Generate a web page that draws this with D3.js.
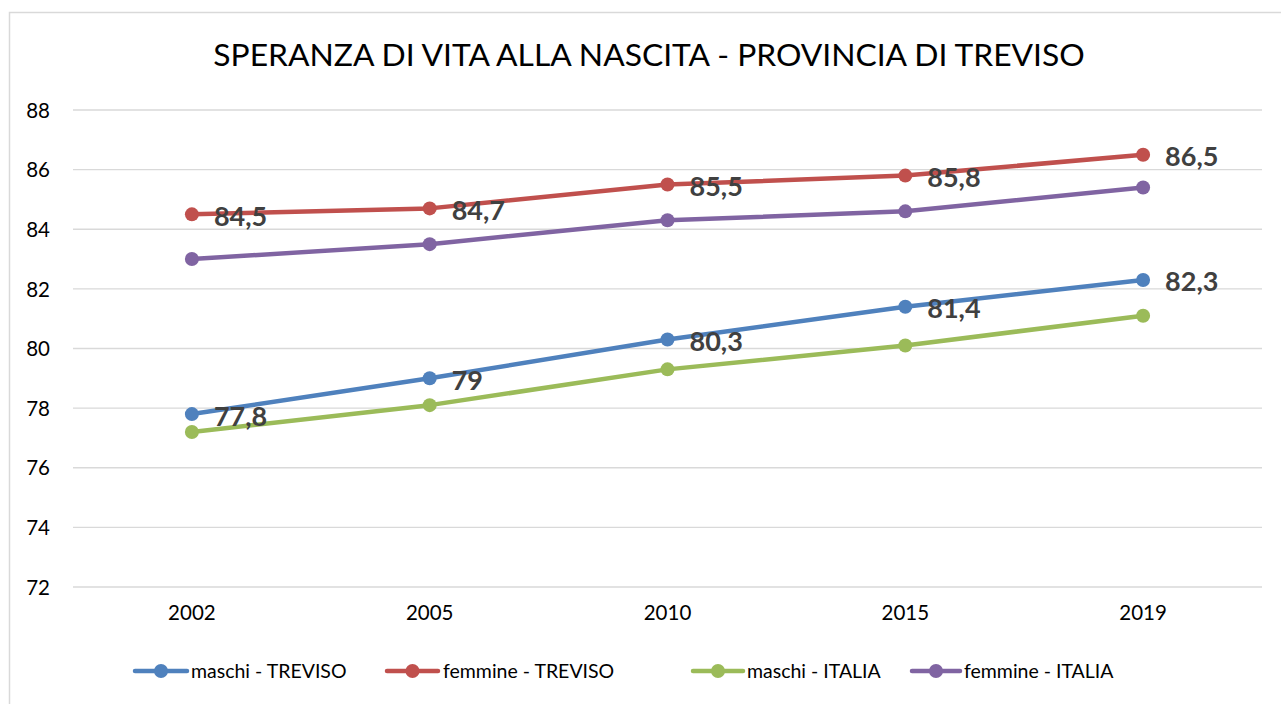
<!DOCTYPE html>
<html><head><meta charset="utf-8">
<script src="https://cdn.jsdelivr.net/npm/d3@7/dist/d3.min.js"></script>
<style>body{margin:0;background:#fff;}svg{display:block;}</style>
</head><body>
<svg id="c" width="1281" height="704"></svg>
<script>
const years = ["2002","2005","2010","2015","2019"];
const maschiTreviso = [77.8, 79.0, 80.3, 81.4, 82.3];
const femmineTreviso = [84.5, 84.7, 85.5, 85.8, 86.5];
const maschiItalia = [77.2, 78.1, 79.3, 80.1, 81.1];
const femmineItalia = [83.0, 83.5, 84.3, 84.6, 85.4];
const yTicks = [72,74,76,78,80,82,84,86,88];
const seriesNames = ["maschi - TREVISO","femmine - TREVISO","maschi - ITALIA","femmine - ITALIA"];
const seriesColors = ["#4F81BD","#C0504D","#9BBB59","#8064A2"];
const titleText = "SPERANZA DI VITA ALLA NASCITA - PROVINCIA DI TREVISO";

const series = [
  {name: seriesNames[0], values: maschiTreviso, color: seriesColors[0], labels: true},
  {name: seriesNames[1], values: femmineTreviso, color: seriesColors[1], labels: true},
  {name: seriesNames[2], values: maschiItalia, color: seriesColors[2], labels: false},
  {name: seriesNames[3], values: femmineItalia, color: seriesColors[3], labels: false}
];
const drawOrder = [3,2,1,0];

const svg = d3.select("#c");
const font = "Lato, 'Open Sans', sans-serif";

// chart border
svg.append("rect").attr("x",9.5).attr("y",12.5).attr("width",1300).attr("height",720)
  .attr("fill","#fff").attr("stroke","#d9d9d9").attr("stroke-width",1.5);

const x = d3.scaleBand().domain(years).range([73,1262]);
const y = d3.scaleLinear().domain([72,88]).range([587,110]);

// gridlines
svg.append("g").selectAll("line").data(yTicks).join("line")
  .attr("x1",73).attr("x2",1262)
  .attr("y1",d=>y(d)).attr("y2",d=>y(d))
  .attr("stroke","#d9d9d9").attr("stroke-width",1.3);

// y axis
const yAxis = svg.append("g").attr("transform","translate(50,0)")
  .call(d3.axisLeft(y).tickValues(yTicks).tickSize(0).tickPadding(0).tickFormat(d3.format("d")));
yAxis.select(".domain").remove();
yAxis.selectAll("text").attr("font-family",font).attr("font-size",20.5).attr("fill","#000").attr("dy","0.35em");

// x axis
const xAxis = svg.append("g").attr("transform","translate(0,605)")
  .call(d3.axisBottom(x).tickSize(0).tickPadding(0));
xAxis.select(".domain").remove();
xAxis.selectAll("text").attr("font-family",font).attr("font-size",20.5).attr("fill","#000").attr("dy","0.75em");

// title
const title = svg.append("text").attr("x",649).attr("y",66).attr("text-anchor","middle")
  .attr("font-family",font).attr("font-size",32).attr("fill","#000").text(titleText);
const tw = title.node().getComputedTextLength();
title.attr("font-size", 32*872/tw);

const cx = i => x(years[i]) + x.bandwidth()/2;
const line = d3.line().x((d,i)=>cx(i)).y(d=>y(d));

drawOrder.forEach(k=>{
  const s = series[k];
  const g = svg.append("g");
  g.append("path").attr("d", line(s.values)).attr("fill","none")
    .attr("stroke", s.color).attr("stroke-width",4.5).attr("stroke-linejoin","round").attr("stroke-linecap","round");
  g.selectAll("circle").data(s.values).join("circle")
    .attr("cx",(d,i)=>cx(i)).attr("cy",d=>y(d)).attr("r",7).attr("fill",s.color);
});
// labels on top
series.forEach(s=>{
  if(!s.labels) return;
  svg.append("g").selectAll("text").data(s.values).join("text")
    .attr("x",(d,i)=>cx(i)+22).attr("y",d=>y(d)+2).attr("dy","0.35em")
    .attr("font-family",font).attr("font-weight","bold").attr("font-size",27).attr("fill","#404040")
    .text(d=>d3.format(".1~f")(d).replace(".",","));
});

// legend
const legendItems = [
  {x0:135, x1:187, tx:191},
  {x0:387, x1:438, tx:443},
  {x0:693, x1:743, tx:747},
  {x0:912, x1:960, tx:964}
];
const lg = svg.append("g");
series.forEach((s,i)=>{
  const L = legendItems[i], ly = 671;
  lg.append("line").attr("x1",L.x0).attr("x2",L.x1).attr("y1",ly).attr("y2",ly)
    .attr("stroke",s.color).attr("stroke-width",4.5).attr("stroke-linecap","round");
  lg.append("circle").attr("cx",(L.x0+L.x1)/2).attr("cy",ly).attr("r",7).attr("fill",s.color);
  lg.append("text").attr("x",L.tx).attr("y",ly).attr("dy","0.35em")
    .attr("font-family",font).attr("font-size",19.5).attr("fill","#000").text(s.name);
});
</script>
</body></html>
